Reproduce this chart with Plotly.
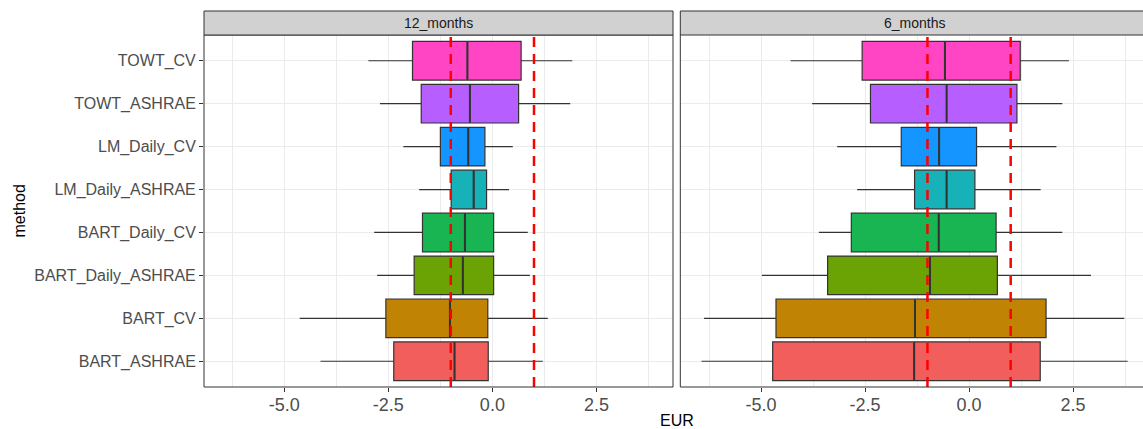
import plotly.graph_objects as go

methods = ["BART_ASHRAE", "BART_CV", "BART_Daily_ASHRAE", "BART_Daily_CV",
           "LM_Daily_ASHRAE", "LM_Daily_CV", "TOWT_ASHRAE", "TOWT_CV"]
colors = ["#F25E5B", "#C08303", "#6BA204", "#18B552",
          "#17B2B7", "#1495FF", "#B65EFF", "#FF44C4"]

panels = ["12_months", "6_months"]

# 12_months
lo_12  = [-4.13, -4.63, -2.77, -2.84, -1.76, -2.14, -2.70, -2.98]
q1_12  = [-2.37, -2.56, -1.88, -1.68, -0.99, -1.25, -1.71, -1.92]
med_12 = [-0.91, -1.02, -0.71, -0.66, -0.45, -0.58, -0.54, -0.60]
q3_12  = [-0.10, -0.11,  0.03,  0.03, -0.14, -0.18,  0.63,  0.69]
hi_12  = [ 1.21,  1.33,  0.90,  0.85,  0.40,  0.49,  1.87,  1.92]

# 6_months
lo_6  = [-6.43, -6.37, -4.98, -3.61, -2.69, -3.17, -3.77, -4.29]
q1_6  = [-4.72, -4.64, -3.40, -2.83, -1.31, -1.63, -2.37, -2.57]
med_6 = [-1.32, -1.30, -0.94, -0.73, -0.54, -0.72, -0.54, -0.58]
q3_6  = [ 1.71,  1.85,  0.68,  0.65,  0.14,  0.18,  1.15,  1.23]
hi_6  = [ 3.81,  3.73,  2.93,  2.24,  1.72,  2.10,  2.24,  2.40]

ref_lines = [-1, 1]
x_ticks = [-5.0, -2.5, 0.0, 2.5]
x_tick_text = ["-5.0", "-2.5", "0.0", "2.5"]

W, H = 1143, 429
FONT = "Liberation Sans, Arial, sans-serif"

def px_x(p):
    return p / W

def px_y(p):
    return 1 - p / H

left_dom = [px_x(204), px_x(673)]
right_dom = [px_x(680.3), 1.0]
y_dom = [px_y(387), px_y(35)]

fig = go.Figure()

data = [
    (lo_12, q1_12, med_12, q3_12, hi_12, "x", "y"),
    (lo_6, q1_6, med_6, q3_6, hi_6, "x2", "y2"),
]
for lo, q1, med, q3, hi, xa, ya in data:
    for i, m in enumerate(methods):
        fig.add_trace(go.Box(
            y=[m], q1=[q1[i]], median=[med[i]], q3=[q3[i]],
            lowerfence=[lo[i]], upperfence=[hi[i]],
            orientation="h", fillcolor=colors[i],
            line=dict(color="#333333", width=1.2),
            whiskerwidth=0, width=0.9, boxpoints=False,
            xaxis=xa, yaxis=ya, showlegend=False, hoverinfo="skip",
        ))
        # thicker median line (ggplot fattens the median)
        fig.add_trace(go.Box(
            y=[m], q1=[med[i]], median=[med[i]], q3=[med[i]],
            lowerfence=[med[i]], upperfence=[med[i]],
            orientation="h", fillcolor="rgba(0,0,0,0)",
            line=dict(color="#333333", width=2.0),
            whiskerwidth=0, width=0.88, boxpoints=False,
            xaxis=xa, yaxis=ya, showlegend=False, hoverinfo="skip",
        ))

grid = "#EBEBEB"
xcommon = dict(
    tickvals=x_ticks, ticktext=x_tick_text, showgrid=True, gridcolor=grid,
    gridwidth=1, zeroline=False, ticks="outside", ticklen=4, tickcolor="#333333",
    tickfont=dict(family=FONT, size=18, color="#4D4D4D"), showline=False,
    ticklabelstandoff=-3,
    minor=dict(dtick=1.25, tick0=0, showgrid=True, gridcolor=grid, gridwidth=0.5, ticks=""),
)
ycommon = dict(
    type="category", categoryorder="array", categoryarray=methods,
    range=[-0.6, 7.6], showgrid=True, gridcolor=grid, gridwidth=1,
    zeroline=False, showline=False, domain=y_dom,
)

fig.update_layout(
    width=W, height=H, margin=dict(l=0, r=0, t=0, b=0),
    paper_bgcolor="white", plot_bgcolor="white", boxmode="overlay",
    xaxis=dict(domain=left_dom, range=[-6.93, 4.34], anchor="y", **xcommon),
    xaxis2=dict(domain=right_dom, range=[-6.94, 4.18], anchor="y2", **xcommon),
    yaxis=dict(anchor="x", ticks="outside", ticklen=4, tickcolor="#333333",
               tickfont=dict(family=FONT, size=16, color="#4D4D4D"), **ycommon),
    yaxis2=dict(anchor="x2", showticklabels=False, matches="y", **ycommon),
)

shapes = []
# reference lines
for xr, yr in [("x", "y domain"), ("x2", "y2 domain")]:
    for v in ref_lines:
        shapes.append(dict(type="line", xref=xr, yref=yr, x0=v, x1=v, y0=0, y1=1,
                           line=dict(color="#FF0000", width=2.5, dash="10px,7px"),
                           layer="above"))

# panel borders
shapes.append(dict(type="rect", xref="paper", yref="paper",
                   x0=left_dom[0], x1=left_dom[1], y0=y_dom[0], y1=y_dom[1],
                   line=dict(color="#333333", width=1), layer="above"))
for (xa0, xa1, ya0, ya1) in [
    (right_dom[0], right_dom[0], y_dom[0], y_dom[1]),
    (right_dom[0], right_dom[1], y_dom[0], y_dom[0]),
]:
    shapes.append(dict(type="line", xref="paper", yref="paper",
                       x0=xa0, x1=xa1, y0=ya0, y1=ya1,
                       line=dict(color="#333333", width=1), layer="above"))

# strips
strip_top = px_y(11)
for dom in [left_dom, [right_dom[0], 1.003]]:
    shapes.append(dict(type="rect", xref="paper", yref="paper",
                       x0=dom[0], x1=dom[1], y0=y_dom[1], y1=strip_top,
                       fillcolor="#D1D1D1", line=dict(color="#333333", width=1)))
fig.update_layout(shapes=shapes)

annotations = []
centers = [(left_dom[0] + left_dom[1]) / 2, (right_dom[0] + px_x(1149.5)) / 2]
for label, cx in zip(panels, centers):
    annotations.append(dict(text=label, x=cx, y=(y_dom[1] + strip_top) / 2,
                            xref="paper", yref="paper", showarrow=False,
                            xanchor="center", yanchor="middle",
                            font=dict(family=FONT, size=14, color="#1A1A1A")))
annotations.append(dict(text="EUR", x=px_x(676.5), y=px_y(420.5), xref="paper",
                        yref="paper", showarrow=False, xanchor="center",
                        yanchor="middle", font=dict(family=FONT, size=16, color="black")))
annotations.append(dict(text="method", x=px_x(18.5), y=px_y(211), xref="paper",
                        yref="paper", showarrow=False, textangle=-90,
                        xanchor="center", yanchor="middle",
                        font=dict(family=FONT, size=16, color="black")))
fig.update_layout(annotations=annotations)

fig.write_html("out.html", config={"displayModeBar": False},
               post_script="document.body.style.margin='0px';document.body.style.overflow='hidden';")
